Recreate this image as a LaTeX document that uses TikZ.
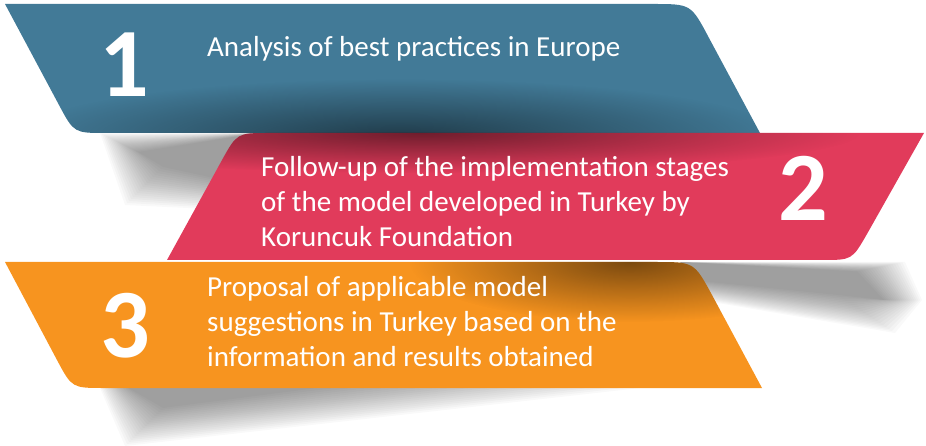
\documentclass[tikz,border=0pt]{standalone}
\usepackage{fontspec}
\setmainfont{Carlito}
\usetikzlibrary{fadings}
\definecolor{bandblue}{HTML}{427A97}
\definecolor{bandred}{HTML}{E13B5B}
\definecolor{bandorange}{HTML}{F7941F}
\tikzfading[name=fade out, inner color=transparent!0, outer color=transparent!100]
\def\bandone{(5,4) -- (653,4) .. controls (691,4) .. (709,38) -- (760,133) -- (106,133) .. controls (74,133) .. (59,105) -- cycle}
\def\bandtwo{(269,133) -- (924,133) -- (867,234) .. controls (852,260) .. (822,260) -- (167,260) -- (221.5,161) .. controls (237,133) .. (269,133) -- cycle}
\def\bandthree{(5,262) -- (656,262) .. controls (694,262) .. (712,295) -- (762,388) -- (104,388) .. controls (72,388) .. (57,360) -- cycle}
\begin{document}
\begin{tikzpicture}
  [x=1pt, y=-1pt,
  softshadow/.style={fill=black, opacity=0.022},
  curl/.style={fill=black, opacity=0.5, path fading=fade out},
  number/.style={text=white, font=\fontsize{98}{98}\selectfont\bfseries, inner sep=0pt, anchor=base},
  caption/.style={text=white, font=\fontsize{29}{35}\selectfont, align=left, inner sep=0pt, anchor=base west}]
  \useasboundingbox (0,0) rectangle (926,446);
  \foreach \k in {0,...,19} {
    \fill[softshadow] (100+2*\k,133+\k) -- (260,133) -- (230,210-1.5*\k) -- (125+2*\k,205-2*\k) -- cycle;
    \fill[softshadow] (680,262) -- (905-2.5*\k,262+0.5*\k) -- (922-2*\k,300) -- (895-3*\k,333-2*\k) -- (700,300-\k) -- cycle;
    \fill[softshadow] (100+1.5*\k,388) -- (640-17*\k,388) -- (125+2*\k,446-2*\k) -- cycle;
  }
  \fill[bandblue] \bandone;
  \fill[bandred] \bandtwo;
  \fill[bandorange] \bandthree;
  \begin{scope}
    \clip \bandone;
    \fill[curl] (400,135) ellipse (380 and 56);
  \end{scope}
  \begin{scope}
    \clip \bandtwo;
    \fill[curl] (420,133) ellipse (440 and 40);
  \end{scope}
  \begin{scope}
    \clip \bandthree;
    \fill[curl] (630,262) ellipse (220 and 60);
  \end{scope}
  \node[number] (num1) at (124,97) {1};
  \node[caption] (step1) at (207,57) {Analysis of best practices in Europe};
  \node[number] (num2) at (803,221) {2};
  \node[caption] (step2) at (261,247) {Follow-up of the implementation stages\\of the model developed in Turkey by\\Koruncuk Foundation};
  \node[number] (num3) at (125,357) {3};
  \node[caption] (step3) at (207,366) {Proposal of applicable model\\suggestions in Turkey based on the\\information and results obtained};
\end{tikzpicture}
\end{document}
